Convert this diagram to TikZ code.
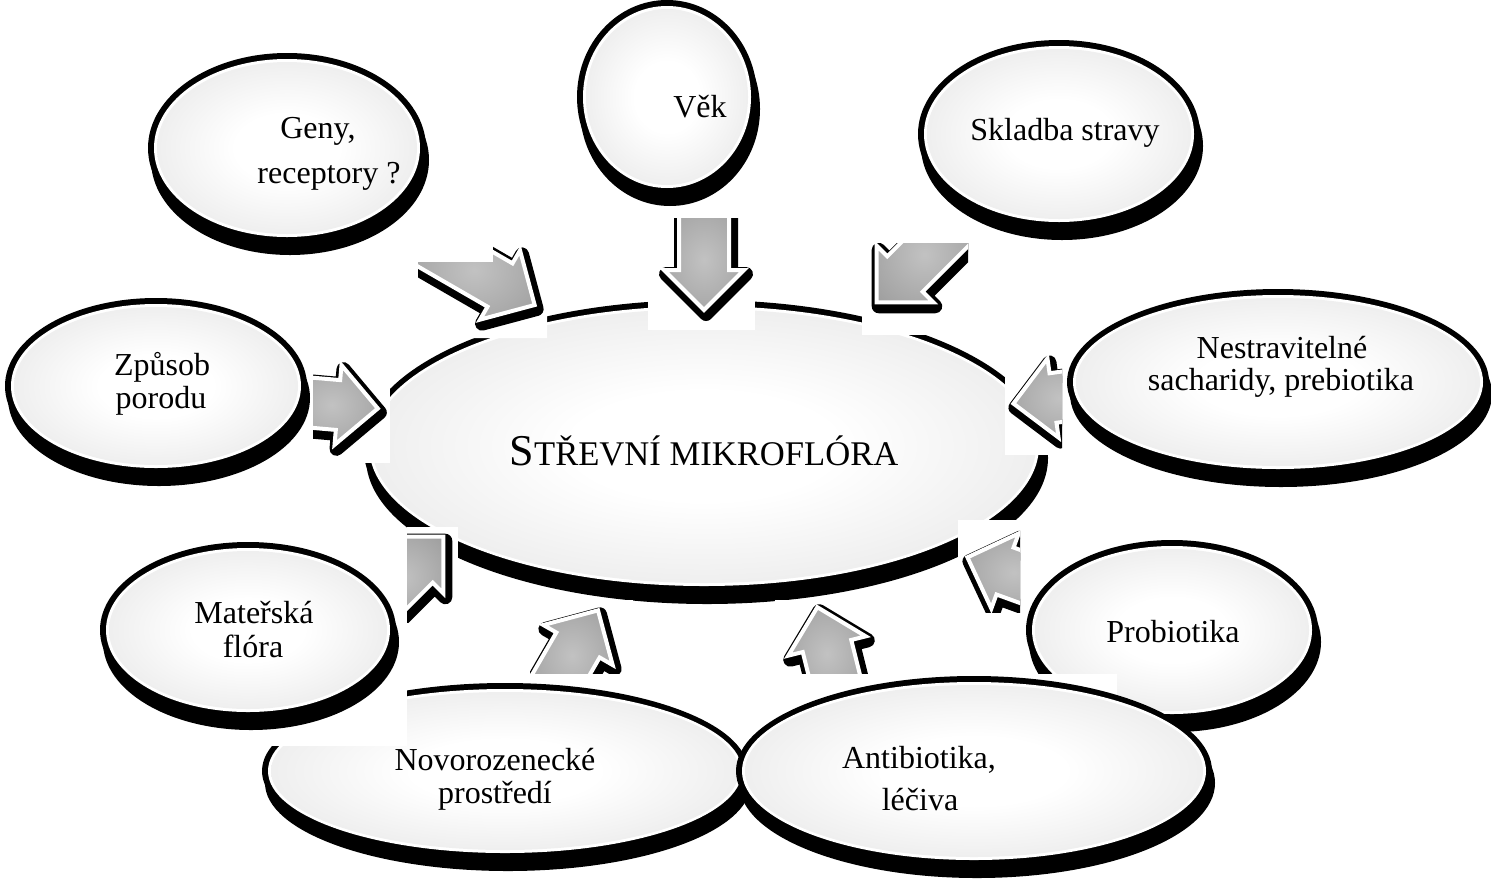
\documentclass[tikz,border=0pt]{standalone}
\usepackage{fontspec}
\setmainfont{Liberation Serif}
\pgfdeclareradialshading{ovalshading}{\pgfpoint{0bp}{0bp}}{color(0bp)=(white); color(10bp)=(white); color(50bp)=(black!17)}
\pgfdeclareradialshading{arrowshading}{\pgfpoint{0bp}{0bp}}{color(0bp)=(black!24); color(50bp)=(black!44)}
\begin{document}
\begin{tikzpicture}[x=0.5pt,y=0.5pt]
\tikzset{
  ovalfill/.style={shading=ovalshading},
  arrowbody/.style={draw=white, line width=2pt, line join=miter, shading=arrowshading},
  arrowshade/.style={fill=black, draw=black, line width=7pt, line join=round},
  lbl/.style={anchor=base, inner sep=0pt, font=\fontsize{16pt}{18pt}\selectfont},
}
\newcommand\myoval[4]{%
  \fill[black] (#1+3,-#2-12) ellipse [x radius=#3, y radius=#4];
  \fill[black] (#1,-#2) ellipse [x radius=#3, y radius=#4];
  \fill[white] (#1,-#2) ellipse [x radius=#3-6, y radius=#4-6];
  \shade[ovalfill] (#1,-#2) ellipse [x radius=#3-9, y radius=#4-9];
}
\newcommand\myarrowpath{(-\myshaft,-25) -- (0,-25) -- (0,-40) -- (40,0) -- (0,40) -- (0,25) -- (-\myshaft,25) -- cycle}
\newcommand\myinarrow[4]{%
  \def\myshaft{#4}%
  \begin{scope}[shift={(#1+2,-#2-4)}, rotate=#3]
    \path[arrowshade] \myarrowpath;
  \end{scope}
  \begin{scope}[shift={(#1,-#2)}, rotate=#3]
    \shade[arrowbody] \myarrowpath;
  \end{scope}
}
\useasboundingbox (0,0) rectangle (1491,-884);
\fill[white] (0,0) rectangle (1491,-884);

% central ellipse
\myoval{704}{446}{341}{146}

% outer ellipses
\myoval{667}{97}{90}{97}
\myoval{1059}{134}{141}{94}
\myoval{1278}{382}{211}{93}
\myoval{287}{148}{139}{95}
\myoval{156}{386}{151}{88}
\myoval{1172}{630}{146}{90}
\myoval{505}{771}{243}{88}
\fill[white] (240,-676) rectangle (407,-746);
\myoval{248}{630}{148}{88}
\fill[white] (1000,-674) rectangle (1117,-745);
\myoval{974}{771}{238}{95}

% arrows (each on its own white tile)
\begin{scope}
  \fill[white] (418,-262) -- (493,-262) -- (493,-245) -- (547,-245) -- (547,-338) -- (418,-338) -- cycle;
  \clip (418,-262) -- (493,-262) -- (493,-245) -- (547,-245) -- (547,-338) -- (418,-338) -- cycle;
  \myinarrow{500}{285}{-30}{85}
\end{scope}
\begin{scope}
  \fill[white] (648,-218) rectangle (755,-330);
  \clip (648,-218) rectangle (755,-330);
  \myinarrow{704}{270}{-90}{60}
\end{scope}
\begin{scope}
  \fill[white] (862,-243) rectangle (968,-335);
  \clip (862,-243) rectangle (968,-335);
  \myinarrow{905}{274}{225}{70}
\end{scope}
\begin{scope}
  \fill[white] (1005,-355) rectangle (1062,-455);
  \clip (1005,-355) rectangle (1062,-455);
  \myinarrow{1053}{398}{188}{50}
\end{scope}
\begin{scope}
  \fill[white] (313,-355) rectangle (390,-463);
  \clip (313,-355) rectangle (390,-463);
  \myinarrow{338}{405}{-5}{50}
\end{scope}
\begin{scope}
  \fill[white] (407,-527) rectangle (458,-622);
  \clip (407,-527) rectangle (458,-622);
  \myinarrow{415}{565}{45}{50}
\end{scope}
\begin{scope}
  \fill[white] (530,-600) rectangle (633,-673);
  \clip (530,-600) rectangle (633,-673);
  \myinarrow{578}{645}{60}{50}
\end{scope}
\begin{scope}
  \fill[white] (775,-600) rectangle (875,-673);
  \clip (775,-600) rectangle (875,-673);
  \myinarrow{827}{646}{104}{50}
\end{scope}
\begin{scope}
  \fill[white] (958,-520) rectangle (1020,-612);
  \clip (958,-520) rectangle (1020,-612);
  \myinarrow{1005}{571}{160}{50}
\end{scope}

% texts
\node[anchor=base, inner sep=0pt] (title) at (704,-465)
  {{\fontsize{22pt}{22pt}\selectfont S}{\fontsize{17.3pt}{18pt}\selectfont TŘEVNÍ MIKROFLÓRA}};
\node[lbl] (geny1) at (318,-138) {Geny,};
\node[lbl] (geny2) at (329,-183) {receptory ?};
\node[lbl] (vek) at (700,-117) {Věk};
\node[lbl] (strava) at (1065,-140) {Skladba stravy};
\node[lbl] (nestr1) at (1282,-358) {Nestravitelné};
\node[lbl] (nestr2) at (1281,-390) {sacharidy, prebiotika};
\node[lbl] (zpus1) at (162,-375) {Způsob};
\node[lbl] (zpus2) at (161,-408) {porodu};
\node[lbl] (mat1) at (254,-623) {Mateřská};
\node[lbl] (mat2) at (253,-657) {flóra};
\node[lbl] (probio) at (1173,-642) {Probiotika};
\node[lbl] (novo1) at (495,-770) {Novorozenecké};
\node[lbl] (novo2) at (495,-803) {prostředí};
\node[lbl] (anti1) at (919,-768) {Antibiotika,};
\node[lbl] (anti2) at (920,-810) {léčiva};
\end{tikzpicture}
\end{document}
